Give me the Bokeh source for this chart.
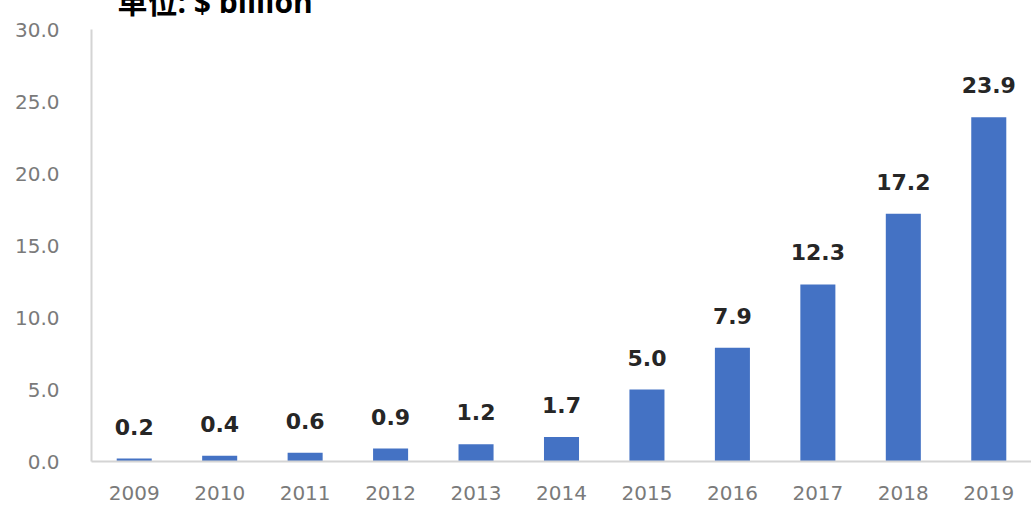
from bokeh.plotting import figure
from bokeh.models import ColumnDataSource, FactorRange, Range1d, FixedTicker, CustomJSTickFormatter
from bokeh.core.properties import value
from bokeh.embed import file_html
from bokeh.resources import INLINE

years = ["2009", "2010", "2011", "2012", "2013", "2014", "2015", "2016", "2017", "2018", "2019"]
market = [0.2, 0.4, 0.6, 0.9, 1.2, 1.7, 5.0, 7.9, 12.3, 17.2, 23.9]
labels = ["0.2", "0.4", "0.6", "0.9", "1.2", "1.7", "5.0", "7.9", "12.3", "17.2", "23.9"]
y_ticks = [0, 5, 10, 15, 20, 25, 30]
title_text = "单位: $ billion"

source = ColumnDataSource(dict(year=years, val=market, lab=labels))

p = figure(
    x_range=FactorRange(*years, range_padding=0),
    y_range=Range1d(0, 30),
    width=1023, height=536,
    output_backend="svg", toolbar_location=None,
    min_border_left=83, min_border_right=0,
    min_border_top=42, min_border_bottom=46,
    margin=(-29, -8, -8, 8),
    title=title_text,
)
p.title.text_font = "Open Sans, Noto Sans CJK SC"
p.title.text_font_style = "bold"
p.title.text_font_size = "30px"
p.title.text_color = "#000000"
p.title.align = "left"
p.title.offset = 26
p.title.standoff = 15

p.outline_line_color = None
p.xgrid.grid_line_color = None
p.ygrid.grid_line_color = None
p.background_fill_color = "white"
p.border_fill_color = "white"

p.vbar(x="year", top="val", width=0.41, source=source,
       fill_color="#4472C4", line_color=None)

p.text(x="year", y="val", text="lab", source=source,
       text_align="center", text_baseline="middle", y_offset=-32,
       text_font=value("DejaVu Sans"), text_font_style="bold",
       text_font_size="22px", text_color="#262626")

p.yaxis.ticker = FixedTicker(ticks=y_ticks)
p.yaxis.formatter = CustomJSTickFormatter(code="return tick.toFixed(1);")
for ax in (p.xaxis, p.yaxis):
    ax.axis_line_color = "#d4d4d4"
    ax.axis_line_width = 2
    ax.major_tick_line_color = None
    ax.minor_tick_line_color = None
    ax.major_label_text_font = "DejaVu Sans"
    ax.major_label_text_font_size = "20px"
    ax.major_label_text_color = "#7a7a7a"
p.yaxis.major_label_standoff = 26
p.xaxis.major_label_standoff = 18

open("out.html", "w").write(file_html(p, INLINE))
